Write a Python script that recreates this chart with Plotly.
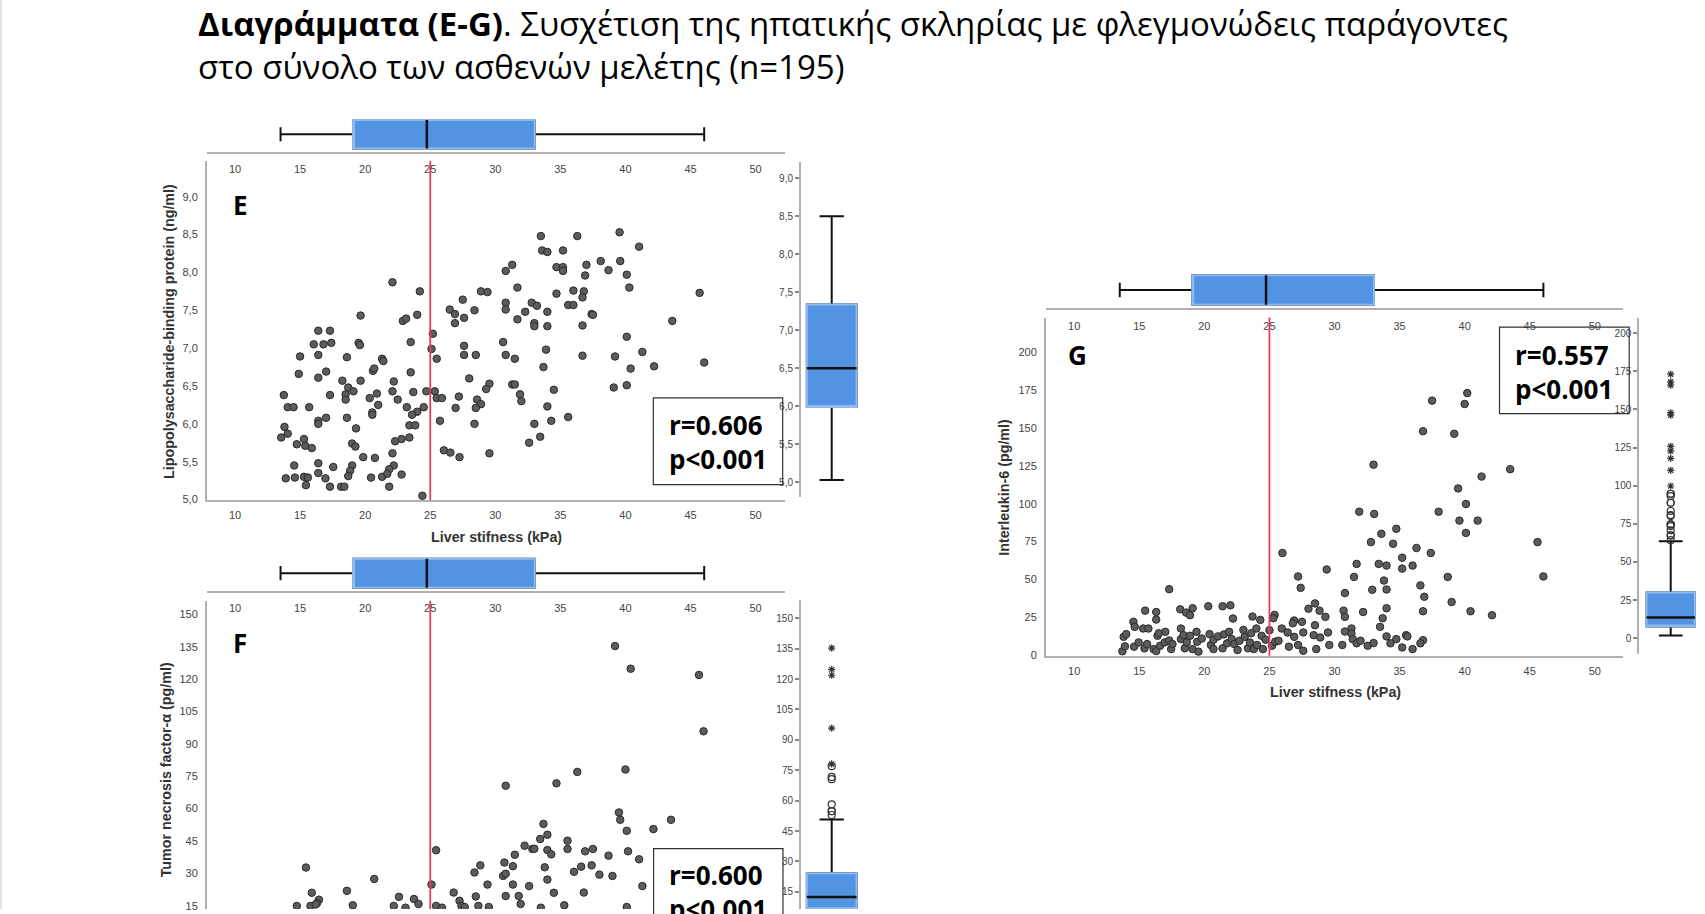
import plotly.graph_objects as go

W, H = 1705, 914

# ---------------- data ----------------
# Panel E: liver stiffness (kPa) vs LBP (ng/ml)
LS_E = [39.55,33.5,36.3,41.05,33.6,34.0,35.2,31.3,30.8,38.1,39.6,37.0,34.7,35.2,35.2,38.7,40.1,36.9,22.1,24.2,
        31.7,40.3,28.9,29.4,34.7,36.0,36.8,36.7,45.7,27.5,30.8,32.8,33.2,35.6,36.0,26.5,28.4,30.8,32.3,34.0,
        26.9,19.65,24.0,37.4,37.5,22.9,23.15,27.6,31.7,43.6,26.9,33.0,33.0,34.0,36.7,16.4,17.3,25.2,40.1,16.05,
        16.8,17.4,19.5,19.6,23.5,30.6,27.6,25.1,33.9,41.3,15.0,16.4,18.6,25.5,27.6,28.5,30.8,31.5,36.7,39.2,
        21.3,21.4,46.05,42.2,40.4,33.7,20.6,20.7,14.9,17.0,23.5,16.4,28.0,18.25,19.65,22.2,29.55,29.3,31.3,31.5,
        40.1,18.7,19.1,39.1,34.5,13.75,17.3,18.5,18.5,20.9,22.1,23.7,24.7,25.35,25.5,25.9,20.35,22.5,27.2,31.9,
        32.0,28.6,28.9,14.05,14.5,15.7,21.0,23.2,24.5,26.95,28.5,34.0,20.55,20.55,24.0,23.6,17.0,18.6,35.6,34.3,
        16.4,16.4,25.75,28.4,23.4,23.85,33.0,13.8,14.05,19.3,13.55,15.3,22.8,23.4,33.45,22.3,14.75,15.4,15.9,19.0,
        19.25,32.6,26.05,26.55,22.1,29.55,19.85,20.75,27.25,16.4,14.55,17.55,19.0,22.2,21.85,18.85,16.4,13.9,14.6,15.3,
        15.6,16.95,18.7,20.45,21.3,21.7,22.8,15.45,17.3,18.15,18.4,21.85,24.4]
LBP = [8.53,8.48,8.48,8.34,8.29,8.27,8.29,8.10,8.02,8.15,8.15,8.10,8.07,8.07,8.02,8.03,7.97,7.96,7.87,7.75,
       7.80,7.80,7.75,7.74,7.72,7.76,7.75,7.67,7.73,7.64,7.60,7.60,7.56,7.57,7.57,7.51,7.50,7.51,7.48,7.48,
       7.45,7.43,7.44,7.45,7.44,7.36,7.39,7.40,7.38,7.36,7.33,7.33,7.29,7.29,7.30,7.23,7.23,7.19,7.15,7.05,
       7.05,7.07,7.07,7.04,7.08,7.08,7.03,6.99,6.98,6.95,6.89,6.91,6.88,6.86,6.91,6.91,6.91,6.86,6.90,6.89,
       6.86,6.83,6.81,6.76,6.73,6.75,6.70,6.73,6.66,6.69,6.68,6.61,6.60,6.57,6.57,6.56,6.53,6.46,6.52,6.52,
       6.51,6.48,6.43,6.48,6.45,6.38,6.38,6.39,6.32,6.40,6.43,6.42,6.43,6.43,6.34,6.34,6.34,6.32,6.36,6.39,
       6.30,6.32,6.26,6.22,6.22,6.22,6.25,6.22,6.22,6.21,6.21,6.23,6.15,6.12,6.16,6.12,6.08,6.08,6.09,6.04,
       6.04,6.00,6.04,6.00,5.98,5.98,6.00,5.96,5.87,5.94,5.82,5.80,5.80,5.82,5.83,5.77,5.73,5.71,5.68,5.74,
       5.70,5.75,5.65,5.62,5.61,5.61,5.56,5.55,5.56,5.48,5.45,5.43,5.45,5.45,5.40,5.38,5.35,5.28,5.29,5.30,
       5.29,5.28,5.31,5.29,5.30,5.34,5.33,5.19,5.17,5.17,5.17,5.17,5.05]

# Panel F: liver stiffness vs TNF-alpha (pg/ml) (visible part only)
LS_F = [39.2,40.4,45.65,46.0,36.3,40.0,34.7,30.8,39.5,39.6,43.5,42.15,40.1,33.7,34.0,33.45,35.55,32.25,32.85,33.0,
        34.0,34.3,35.55,36.9,37.5,40.2,25.45,31.5,38.7,41.05,28.85,30.7,31.35,33.8,36.6,37.4,15.45,28.4,36.05,38.0,
        39.0,30.6,30.8,34.0,20.7,25.1,29.4,31.35,32.6,41.3,15.9,18.6,26.8,34.5,36.8,22.6,23.75,28.5,30.8,31.8,
        16.45,16.3,27.25,24.1,31.95,14.75,15.8,16.2,19.05,22.2,25.45,25.9,27.4,27.65,28.7,29.5,35.3,40.1,23.1,33.5]
TNF = [135.3,124.8,121.9,95.8,77.0,78.1,71.7,70.6,58.2,54.8,54.8,50.5,49.7,52.9,47.9,45.9,45.1,42.8,41.3,41.4,
       40.8,38.8,41.3,40.2,41.3,40.2,40.7,38.6,38.2,36.5,33.7,35.0,33.3,32.8,33.1,33.7,32.7,30.4,30.7,29.4,
       28.8,28.8,29.8,27.1,27.4,24.8,24.8,24.8,24.1,24.1,21.0,21.9,21.1,21.0,21.1,19.1,18.1,19.3,19.5,19.5,
       17.8,16.2,17.3,15.8,15.8,14.9,14.9,15.6,15.2,14.9,14.9,14.1,14.9,14.4,14.9,14.4,15.2,14.4,14.1,14.1]

# Panel G: liver stiffness vs IL-6 (pg/ml)
LS_G = [40.2,37.5,40.0,36.8,39.2,33.0,43.5,41.3,39.5,40.1,31.9,33.05,38.0,39.6,41.0,34.75,33.6,40.1,32.8,34.5,
        45.6,36.3,26.0,37.4,31.7,33.4,34.0,35.2,36.0,35.2,29.4,27.2,31.5,38.7,46.05,33.8,27.4,17.3,32.9,34.0,
        36.6,30.8,36.9,39.0,28.5,20.3,21.4,22.0,19.1,18.15,18.6,18.9,15.45,16.3,16.3,28.0,28.85,30.7,30.8,32.2,
        34.0,36.8,40.45,42.1,23.7,24.3,25.4,25.3,22.2,29.3,33.7,14.55,14.65,15.3,15.7,18.2,26.9,27.5,26.8,28.5,
        33.5,31.3,36.8,36.6,13.7,13.9,13.8,14.0,14.6,14.95,15.4,15.6,16.1,16.3,16.4,16.5,16.6,16.95,17.0,17.3,
        17.45,17.55,18.2,18.4,18.5,18.65,18.9,19.1,19.4,19.45,19.55,19.8,20.4,20.5,20.7,20.7,21.05,21.4,21.5,21.75,
        21.9,22.1,22.3,22.55,22.7,23.0,23.1,23.35,23.5,23.6,23.8,24.0,24.05,24.4,24.5,24.7,25.0,25.2,25.45,25.7,
        25.95,26.4,26.5,26.9,27.2,27.6,27.6,28.4,28.6,28.9,29.5,29.6,30.6,30.8,31.3,31.4,31.7,32.0,32.55,33.0,
        34.0,34.3,34.75,35.2,35.5,35.6,36.0]
IL6 = [173.1,168.1,165.9,147.9,146.2,125.8,122.8,117.9,110.1,99.8,94.7,93.2,94.7,88.8,88.8,83.4,80.1,80.7,74.6,73.5,
       74.6,70.7,67.4,67.4,60.2,60.2,59.1,64.3,59.1,57.1,56.5,51.9,51.6,51.6,51.9,49.2,44.4,43.5,43.1,43.3,
       46.0,40.9,38.5,35.0,34.1,32.2,32.2,32.8,30.9,30.2,28.0,26.3,29.3,28.4,23.4,30.6,29.3,29.3,25.2,28.4,
       30.9,28.9,28.9,26.3,25.4,23.2,26.5,24.3,24.1,25.2,24.3,21.9,18.6,17.5,17.5,17.5,22.8,21.9,21.0,19.7,
       18.6,17.5,9.8,7.7,2.4,5.7,12.0,13.8,5.5,8.3,4.4,7.2,3.9,2.6,12.7,14.4,6.1,8.3,15.3,9.6,
       3.9,7.2,10.5,13.1,4.4,8.3,12.7,3.9,15.3,8.8,2.2,10.9,13.8,6.6,3.9,10.1,12.3,4.4,13.6,7.7,
       15.3,10.5,7.2,3.3,9.4,16.6,12.0,4.4,8.3,14.4,3.9,17.5,6.6,12.7,3.9,10.1,16.4,6.1,8.8,9.4,
       17.5,14.9,5.5,12.0,6.6,14.9,2.8,13.1,3.9,11.6,14.9,6.6,6.6,15.5,14.2,10.5,7.7,9.4,6.1,7.9,
       12.3,7.7,10.5,5.0,13.1,12.3,3.9]

# box-plot statistics: [lower whisker, Q1, median, Q3, upper whisker]
BOX_LS = [13.5, 19.07, 24.74, 33.03, 46.05]
BOX_LBP = [5.03, 5.99, 6.50, 7.34, 8.50]
BOX_TNF = [1.5, 6.5, 12.4, 24.2, 50.7]
BOX_IL6 = [1.7, 7.6, 13.6, 30.0, 63.5]

REF_LS = 25  # reference line (kPa)

X_TICKS = [10, 15, 20, 25, 30, 35, 40, 45, 50]
X_TICKTEXT = ["10", "15", "20", "25", "30", "35", "40", "45", "50"]
LBP_TICKS = [5.0, 5.5, 6.0, 6.5, 7.0, 7.5, 8.0, 8.5, 9.0]
LBP_TICKTEXT = ["5,0", "5,5", "6,0", "6,5", "7,0", "7,5", "8,0", "8,5", "9,0"]
TNF_TICKS = [15, 30, 45, 60, 75, 90, 105, 120, 135, 150]
TNF_TICKTEXT = [str(v) for v in TNF_TICKS]
IL6_TICKS = [0, 25, 50, 75, 100, 125, 150, 175, 200]
IL6_TICKTEXT = [str(v) for v in IL6_TICKS]

STATS = {"E": ("0.606", "0.001"), "F": ("0.600", "0.001"), "G": ("0.557", "0.001")}

TITLE_1 = "<b>Διαγράμματα (E-G)</b>. Συσχέτιση της ηπατικής σκληρίας με φλεγμονώδεις παράγοντες"
TITLE_2 = "στο σύνολο των ασθενών μελέτης (n=195)"
X_TITLE = "Liver stifness (kPa)"
Y_TITLES = {"E": "Lipopolysaccharide-binding protein (ng/ml)",
            "F": "Tumor necrosis factor-α (pg/ml)",
            "G": "Interleukin-6 (pg/ml)"}

# ---------------- styling / geometry helpers ----------------
BLUE = "#5294e2"
BLUE_EDGE = "#8fbaf0"
AXIS_COL = "#b0b0b0"
TICK_FONT = dict(family="Liberation Sans, Arial, sans-serif", size=11, color="#444444")
SMALL_TICK_FONT = dict(family="Liberation Sans, Arial, sans-serif", size=10, color="#444444")
TITLE_FONT = dict(family="Liberation Sans, Arial, sans-serif", size=14.3, color="#333333")


def xd(l, r):
    return [l / W, r / W]


def yd(t, b):
    return [1 - b / H, 1 - t / H]


def lin(p, v1, p1, v2, p2):
    return v1 + (p - p1) * (v2 - v1) / (p2 - p1)


def xrange_px(l, r, v1, p1, v2, p2):
    return [lin(l, v1, p1, v2, p2), lin(r, v1, p1, v2, p2)]


def yrange_px(t, b, v1, p1, v2, p2):
    return [lin(b, v1, p1, v2, p2), lin(t, v1, p1, v2, p2)]


fig = go.Figure()
layout = dict(width=W, height=H, margin=dict(l=0, r=0, t=0, b=0),
              paper_bgcolor="white", plot_bgcolor="rgba(0,0,0,0)", showlegend=False)
annotations = []
shapes = []

# panel geometry in pixels
PANELS = {
    "E": dict(n=1, X=LS_E, Y=LBP, ybox=BOX_LBP, ticks=LBP_TICKS, ticktext=LBP_TICKTEXT,
              mx=(207, 784.5), x10=235.0, x50=755.6,
              my=(161.7, 503.0), yv=(5.0, 502.3, 9.0, 197.8),
              top=(117.3, 152.7),
              rx=(801, 862.4), ry=(163.3, 500.0), ryv=(9.0, 179.3, 5.0, 485.0), rbw=0.81,
              letter=(240.5, 206.5), ytitle=(168.7, 333), xtitle=(496, 540),
              sbox=(653.3, 400, 782.7, 487.3), stext=(667, 444), show_x=True),
    "F": dict(n=4, X=LS_F, Y=TNF, ybox=BOX_TNF, ticks=TNF_TICKS, ticktext=TNF_TICKTEXT,
              mx=(207, 784.5), x10=235.0, x50=755.6,
              my=(604.0, 914.0), yv=(150, 617.7, 15, 910.7),
              top=(558.3, 594.3),
              rx=(801, 862.4), ry=(603.3, 914.0), ryv=(150, 621.7, 15, 896.7), rbw=0.81,
              letter=(239.8, 646.7), ytitle=(165.6, 774), xtitle=None,
              sbox=(653.6, 853.3, 783.0, 940.0), stext=(667, 897), show_x=False),
    "G": dict(n=7, X=LS_G, Y=IL6, ybox=BOX_IL6, ticks=IL6_TICKS, ticktext=IL6_TICKTEXT,
              mx=(1046, 1623.4), x10=1074.2, x50=1594.8,
              my=(319.3, 659.3), yv=(0, 658.6, 200, 354.3),
              top=(273.3, 310.0),
              rx=(1639.3, 1702.1), ry=(320.0, 658.0), ryv=(200, 335.0, 0, 641.7), rbw=0.77,
              letter=(1077.9, 357), ytitle=(1004.5, 490), xtitle=(1335, 696),
              sbox=(1499.5, 329, 1629.2, 416), stext=(1513, 374), show_x=True),
}


def axname(n):
    return "" if n == 1 else str(n)


for key, P in PANELS.items():
    n = P["n"]
    xm, ym = "x" + axname(n), "y" + axname(n)
    xt, yt = "x" + axname(n + 1), "y" + axname(n + 1)
    xr, yr = "x" + axname(n + 2), "y" + axname(n + 2)
    xrng = xrange_px(P["mx"][0], P["mx"][1], 10, P["x10"], 50, P["x50"])

    # main x axis (bottom)
    layout["xaxis" + axname(n)] = dict(
        domain=xd(*P["mx"]), range=xrng, anchor=ym, showgrid=False, zeroline=False,
        showline=P["show_x"], linecolor=AXIS_COL, linewidth=2, ticks="",
        tickvals=X_TICKS, ticktext=X_TICKTEXT, showticklabels=P["show_x"],
        tickfont=TICK_FONT, ticklabelstandoff=4)
    # main y axis (left)
    layout["yaxis" + axname(n)] = dict(
        domain=yd(*P["my"]), range=yrange_px(P["my"][0], P["my"][1], *P["yv"]), anchor=xm,
        showgrid=False, zeroline=False, showline=True, linecolor=AXIS_COL, linewidth=2,
        ticks="", tickvals=P["ticks"], ticktext=P["ticktext"], tickfont=TICK_FONT,
        ticklabelstandoff=5)
    # top marginal box axes
    layout["xaxis" + axname(n + 1)] = dict(
        domain=xd(*P["mx"]), range=xrng, anchor=yt, showgrid=False, zeroline=False,
        showline=True, linecolor=AXIS_COL, linewidth=2, ticks="",
        tickvals=X_TICKS, ticktext=X_TICKTEXT, tickfont=TICK_FONT, ticklabelstandoff=6)
    layout["yaxis" + axname(n + 1)] = dict(
        domain=yd(*P["top"]), range=[-0.5, 0.5], anchor=xt, visible=False)
    # right marginal box axes
    layout["xaxis" + axname(n + 2)] = dict(
        domain=xd(*P["rx"]), range=[-0.5, 0.5], anchor=yr, visible=False)
    layout["yaxis" + axname(n + 2)] = dict(
        domain=yd(*P["ry"]), range=yrange_px(P["ry"][0], P["ry"][1], *P["ryv"]), anchor=xr,
        showgrid=False, zeroline=False, showline=True, linecolor=AXIS_COL, linewidth=2,
        ticks="outside", ticklen=4, tickwidth=1.5, tickcolor="#888888",
        tickvals=P["ticks"], ticktext=P["ticktext"], tickfont=SMALL_TICK_FONT)

    # scatter
    fig.add_trace(go.Scatter(
        x=P["X"], y=P["Y"], mode="markers", xaxis=xm, yaxis=ym, hoverinfo="skip",
        marker=dict(size=7.5, color="#5c5c5c", line=dict(color="#2a2a2a", width=1))))

    # ----- top horizontal box (liver stiffness) -----
    lo, q1, med, q3, hi = BOX_LS
    bw = 0.81
    fig.add_trace(go.Box(y=[0], lowerfence=[lo], q1=[q1], median=[med], q3=[q3], upperfence=[hi],
                         orientation="h", width=bw, whiskerwidth=0.49, fillcolor=BLUE,
                         line=dict(color="#111111", width=2), xaxis=xt, yaxis=yt,
                         hoverinfo="skip", boxpoints=False))
    fig.add_trace(go.Box(y=[0], lowerfence=[q1], q1=[q1], median=[q1], q3=[q3], upperfence=[q3],
                         orientation="h", width=bw, whiskerwidth=0, fillcolor=BLUE,
                         line=dict(color=BLUE_EDGE, width=2), xaxis=xt, yaxis=yt,
                         hoverinfo="skip", boxpoints=False))
    fig.add_trace(go.Scatter(x=[med, med], y=[-bw / 2, bw / 2], mode="lines", xaxis=xt, yaxis=yt,
                             line=dict(color="#111111", width=2.5), hoverinfo="skip"))

    # ----- right vertical box -----
    lo, q1, med, q3, hi = P["ybox"]
    bw = P["rbw"]
    fig.add_trace(go.Box(x=[0], lowerfence=[lo], q1=[q1], median=[med], q3=[q3], upperfence=[hi],
                         width=bw, whiskerwidth=0.49, fillcolor=BLUE,
                         line=dict(color="#111111", width=2), xaxis=xr, yaxis=yr,
                         hoverinfo="skip", boxpoints=False))
    fig.add_trace(go.Box(x=[0], lowerfence=[q1], q1=[q1], median=[q1], q3=[q3], upperfence=[q3],
                         width=bw, whiskerwidth=0, fillcolor=BLUE,
                         line=dict(color=BLUE_EDGE, width=2), xaxis=xr, yaxis=yr,
                         hoverinfo="skip", boxpoints=False))
    fig.add_trace(go.Scatter(x=[-bw / 2, bw / 2], y=[med, med], mode="lines", xaxis=xr, yaxis=yr,
                             line=dict(color="#111111", width=2.5), hoverinfo="skip"))
    iqr = q3 - q1
    f_out = max(hi, q3 + 1.5 * iqr)
    f_ext = q3 + 3 * iqr
    circ = [v for v in P["Y"] if f_out < v <= f_ext]
    star = [v for v in P["Y"] if v > f_ext]
    if circ:
        fig.add_trace(go.Scatter(x=[0] * len(circ), y=circ, mode="markers", xaxis=xr, yaxis=yr,
                                 marker=dict(symbol="circle-open", size=7, color="#333333",
                                             line=dict(width=1.2)), hoverinfo="skip"))
    if star:
        fig.add_trace(go.Scatter(x=[0] * len(star), y=star, mode="markers", xaxis=xr, yaxis=yr,
                                 marker=dict(symbol="asterisk-open", size=6, color="#333333",
                                             line=dict(width=1.2, color="#333333")), hoverinfo="skip"))

    # red reference line
    shapes.append(dict(type="line", xref=xm, yref=ym + " domain", x0=REF_LS, x1=REF_LS, y0=0, y1=1,
                       line=dict(color="#e2405a", width=1.8)))

    # stats box
    x0, y0, x1, y1 = P["sbox"]
    shapes.append(dict(type="rect", xref="paper", yref="paper", x0=x0 / W, x1=x1 / W,
                       y0=1 - y1 / H, y1=1 - y0 / H, line=dict(color="#333333", width=1.2),
                       fillcolor="rgba(0,0,0,0)", layer="above"))
    r, p = STATS[key]
    annotations.append(dict(xref="paper", yref="paper", x=P["stext"][0] / W, y=1 - P["stext"][1] / H,
                            xanchor="left", yanchor="middle", align="left", showarrow=False,
                            text="<b>r=%s<br>p&lt;%s</b>" % (r, p),
                            font=dict(family="Open Sans, sans-serif", size=26, color="black")))
    # panel letter
    annotations.append(dict(xref="paper", yref="paper", x=P["letter"][0] / W, y=1 - P["letter"][1] / H,
                            xanchor="center", yanchor="middle", showarrow=False, text="<b>%s</b>" % key,
                            font=dict(family="Open Sans, sans-serif", size=26, color="black")))
    # axis titles
    annotations.append(dict(xref="paper", yref="paper", x=P["ytitle"][0] / W, y=1 - P["ytitle"][1] / H,
                            xanchor="center", yanchor="middle", showarrow=False, textangle=-90,
                            text="<b>%s</b>" % Y_TITLES[key], font=TITLE_FONT))
    if P["xtitle"]:
        annotations.append(dict(xref="paper", yref="paper", x=P["xtitle"][0] / W, y=1 - P["xtitle"][1] / H,
                                xanchor="center", yanchor="middle", showarrow=False,
                                text="<b>%s</b>" % X_TITLE, font=TITLE_FONT))

# slide title
annotations.append(dict(xref="paper", yref="paper", x=196 / W, y=1 - 24 / H, xanchor="left", yanchor="middle",
                        showarrow=False, text=TITLE_1,
                        font=dict(family="Open Sans, sans-serif", size=33, color="black")))
annotations.append(dict(xref="paper", yref="paper", x=196 / W, y=1 - 67 / H, xanchor="left", yanchor="middle",
                        showarrow=False, text=TITLE_2,
                        font=dict(family="Open Sans, sans-serif", size=33, color="black")))
# faint slide edge on the left
shapes.append(dict(type="line", xref="paper", yref="paper", x0=1 / W, x1=1 / W, y0=0, y1=1,
                   line=dict(color="#e4e4e4", width=2)))

layout["annotations"] = annotations
layout["shapes"] = shapes
fig.update_layout(**layout)

fig.write_html("out.html", config={"displayModeBar": False},
               post_script="document.body.style.margin='0';document.body.style.overflow='hidden';")
